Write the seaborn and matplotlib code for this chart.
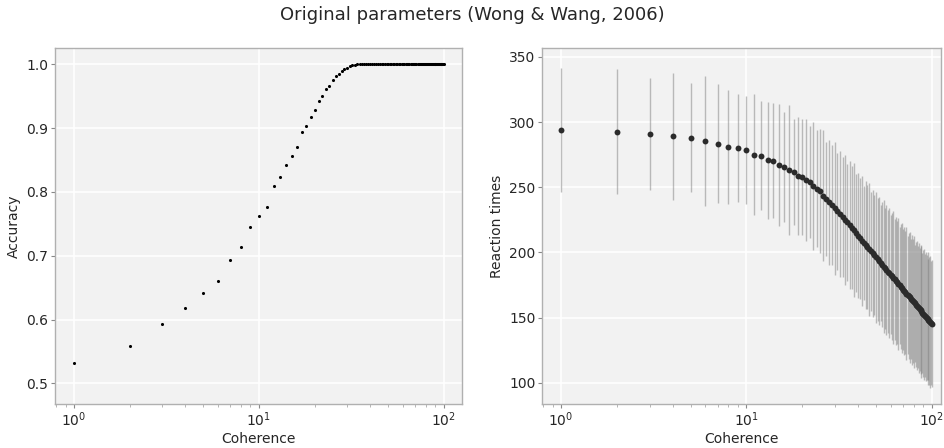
import numpy as np
import pandas as pd
import matplotlib
matplotlib.use("Agg")
import matplotlib.pyplot as plt
import seaborn as sns

coherence = list(range(1, 101))

accuracy = [
    0.532, 0.5585, 0.593, 0.6185, 0.641, 0.660, 0.694, 0.713, 0.7445, 0.763,
    0.777, 0.810, 0.823, 0.842, 0.857, 0.870, 0.894, 0.903, 0.917, 0.928,
    0.943, 0.950, 0.961, 0.966, 0.975, 0.982, 0.985, 0.9895, 0.993, 0.995,
    0.997, 0.999, 0.9995, 1.0, 1.0, 1.0, 1.0, 1.0, 1.0, 1.0,
    1.0, 1.0, 1.0, 1.0, 1.0, 1.0, 1.0, 1.0, 1.0, 1.0,
    1.0, 1.0, 1.0, 1.0, 1.0, 1.0, 1.0, 1.0, 1.0, 1.0,
    1.0, 1.0, 1.0, 1.0, 1.0, 1.0, 1.0, 1.0, 1.0, 1.0,
    1.0, 1.0, 1.0, 1.0, 1.0, 1.0, 1.0, 1.0, 1.0, 1.0,
    1.0, 1.0, 1.0, 1.0, 1.0, 1.0, 1.0, 1.0, 1.0, 1.0,
    1.0, 1.0, 1.0, 1.0, 1.0, 1.0, 1.0, 1.0, 1.0, 1.0,
]

rt_mean = [
    293.9, 292.6, 290.8, 289.0, 288.0, 285.7, 283.4, 280.9, 279.9, 278.3,
    275.0, 274.2, 270.6, 270.4, 266.8, 265.8, 263.2, 262.0, 258.4, 257.6,
    255.6, 253.8, 251.0, 248.9, 247.4, 243.6, 241.0, 238.5, 236.5, 234.0,
    231.5, 229.5, 227.2, 225.0, 223.0, 221.0, 219.0, 217.0, 215.0, 213.0,
    210.8, 209.0, 207.3, 205.6, 204.0, 202.4, 200.8, 199.3, 197.7, 196.2,
    194.8, 193.4, 192.0, 190.6, 189.2, 187.9, 186.6, 185.4, 184.1, 182.9,
    181.7, 180.5, 179.3, 178.1, 177.0, 175.9, 174.8, 173.7, 172.6, 171.6,
    170.5, 169.5, 168.5, 167.5, 166.5, 165.5, 164.6, 163.6, 162.7, 161.8,
    160.9, 160.0, 159.1, 158.2, 157.3, 156.4, 155.6, 154.8, 153.9, 153.1,
    152.3, 151.5, 150.7, 149.9, 149.1, 148.4, 147.6, 146.9, 146.1, 145.4,
]

rt_sd = [
    47.5, 47.7, 43.0, 48.7, 42.0, 49.7, 45.7, 43.6, 41.5, 41.3,
    46.6, 41.8, 44.8, 43.8, 46.7, 42.2, 49.7, 40.6, 45.3, 44.5,
    47.0, 43.0, 49.0, 45.0, 47.5, 50.0, 44.0, 48.0, 46.0, 51.0,
    45.0, 48.5, 46.0, 50.0, 44.5, 49.0, 47.0, 51.5, 45.0, 48.0,
    46.5, 50.0, 44.0, 49.0, 47.5, 51.0, 45.5, 48.5, 46.0, 50.5,
    47.0, 49.0, 44.5, 48.0, 51.0, 46.5, 49.5, 47.0, 50.0, 45.5,
    48.5, 51.0, 46.0, 49.0, 47.5, 50.5, 45.0, 48.0, 50.0, 46.5,
    49.0, 47.0, 51.0, 45.5, 48.5, 50.0, 46.0, 49.5, 47.5, 50.5,
    45.0, 48.0, 49.5, 46.5, 50.0, 47.0, 49.0, 51.0, 46.0, 48.5,
    50.0, 47.0, 49.5, 48.0, 51.0, 46.5, 49.0, 50.5, 47.5, 48.7,
]

df = pd.DataFrame({"Coherence": coherence, "Accuracy": accuracy,
                   "RT": rt_mean, "SD": rt_sd})

sns.set_style("whitegrid", {
    "axes.facecolor": "#f2f2f2",
    "axes.edgecolor": "#b0b0b0",
    "grid.color": "white",
    "axes.grid": True,
    "xtick.bottom": True,
    "ytick.left": True,
})
plt.rcParams["font.family"] = ["DejaVu Sans"]
plt.rcParams["xtick.color"] = "#555555"
plt.rcParams["ytick.color"] = "#555555"
plt.rcParams["xtick.labelcolor"] = "#262626"
plt.rcParams["ytick.labelcolor"] = "#262626"

fig = plt.figure(figsize=(9.45, 4.48), dpi=100)
ax1 = fig.add_axes([0.0585, 0.0989, 0.430, 0.793])
ax2 = fig.add_axes([0.574, 0.0989, 0.422, 0.793])

# Left: accuracy
sns.scatterplot(data=df, x="Coherence", y="Accuracy", ax=ax1, color="black",
                s=5, linewidth=0, zorder=3)
ax1.set_xscale("log")
ax1.set_xlim(0.792, 124.7)
ax1.set_ylim(0.468, 1.025)
ax1.set_yticks([0.5, 0.6, 0.7, 0.8, 0.9, 1.0])
ax1.set_ylabel("Accuracy", fontsize=10, color="#262626", labelpad=4)

# Right: reaction times with error bars
ax2.errorbar(df["Coherence"], df["RT"], yerr=df["SD"], fmt="none",
             ecolor="gray", alpha=0.5, elinewidth=1, zorder=2)
sns.scatterplot(data=df, x="Coherence", y="RT", ax=ax2, color="#2b2b2b",
                s=18, linewidth=0, zorder=3)
ax2.set_xscale("log")
ax2.set_xlim(0.793, 112.5)
ax2.set_ylim(84.1, 356.4)
ax2.set_yticks([100, 150, 200, 250, 300, 350])
ax2.set_ylabel("Reaction times", fontsize=10, color="#262626", labelpad=4)

for ax in (ax1, ax2):
    ax.set_xlabel("Coherence", fontsize=10, color="#262626", labelpad=2)
    ax.grid(True, which="major", color="white", linewidth=1.2)
    ax.grid(False, which="minor")
    ax.tick_params(axis="both", which="major", labelsize=10, length=3,
                   width=0.8, color="#888888", pad=2)
    ax.tick_params(axis="x", which="minor", length=2, width=0.6,
                   color="#aaaaaa")
    for sp in ax.spines.values():
        sp.set_color("#b0b0b0")
        sp.set_linewidth(1)

fig.suptitle("Original parameters (Wong & Wang, 2006)", fontsize=13,
             y=0.966, va="center", color="#262626")

fig.savefig("out.png", dpi=100)
